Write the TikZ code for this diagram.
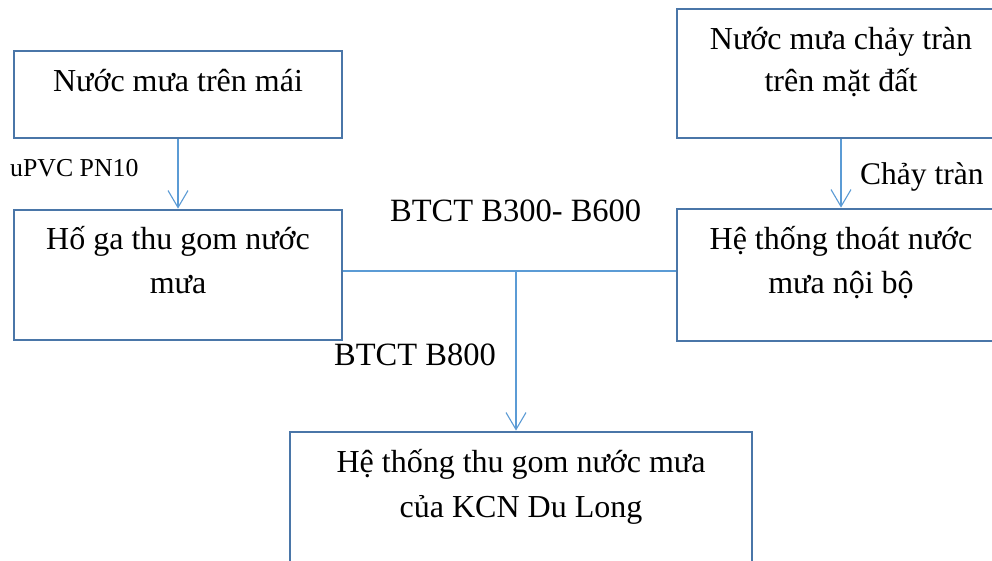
\documentclass[tikz,border=0pt]{standalone}
\usepackage{fontspec}
\setmainfont{Liberation Serif}
\usetikzlibrary{arrows.meta}
\definecolor{boxline}{HTML}{4A76A8}
\definecolor{pipe}{HTML}{5B9BD5}
\tikzset{
  box/.style={draw=boxline, line width=2.8pt, rectangle, inner sep=0pt, fill=white},
  txt/.style={inner sep=0pt, anchor=base, font=\fontsize{32}{38}\selectfont},
  lbl/.style={inner sep=0pt, anchor=base west, font=\fontsize{32.5}{39}\selectfont},
  small/.style={inner sep=0pt, anchor=base west, font=\fontsize{25.8}{31}\selectfont},
  conn/.style={draw=pipe, line width=1.1pt},
  flow/.style={conn, -{Straight Barb[length=17pt, width=20pt, line width=1.1pt]}}
}
\begin{document}
\begin{tikzpicture}[x=1pt, y=-1pt]
\useasboundingbox (0,0) rectangle (992,561);
\clip (0,0) rectangle (992,561);
\fill[white] (0,0) rectangle (992,561);

% boxes
\node[box, minimum width=328pt, minimum height=87pt]  (a) at (178,94.5) {};
\node[box, minimum width=328pt, minimum height=130pt] (b) at (178,275) {};
\node[box, minimum width=328pt, minimum height=129pt] (c) at (841,73.5) {};
\node[box, minimum width=328pt, minimum height=132pt] (d) at (841,275) {};
\node[box, minimum width=462pt, minimum height=180pt] (e) at (521,522) {};

% box texts
\node[txt] (a1) at (178,92) {Nước mưa trên mái};
\node[txt] (b1) at (178,250) {Hố ga thu gom nước};
\node[txt] (b2) at (178,293) {mưa};
\node[txt] (c1) at (841,50) {Nước mưa chảy tràn};
\node[txt] (c2) at (841,92) {trên mặt đất};
\node[txt] (d1) at (841,250) {Hệ thống thoát nước};
\node[txt] (d2) at (841,293) {mưa nội bộ};
\node[txt] (e1) at (521,472) {Hệ thống thu gom nước mưa};
\node[txt] (e2) at (521,517) {của KCN Du Long};

% connectors
\coordinate (j) at (516,271);
\draw[flow] (a) -- (b);
\draw[flow] (c) -- (d);
\draw[conn] (b.east |- j) -- (d.west |- j);
\draw[flow] (j) -- (j |- e.north);

% pipe labels
\node[small] (l1) at (10,177) {uPVC PN10};
\node[lbl] (l2) at (390,222) {BTCT B300- B600};
\node[lbl, font=\fontsize{31.5}{38}\selectfont] (l3) at (860,185) {Chảy tràn};
\node[lbl] (l4) at (334,365) {BTCT B800};
\end{tikzpicture}
\end{document}
